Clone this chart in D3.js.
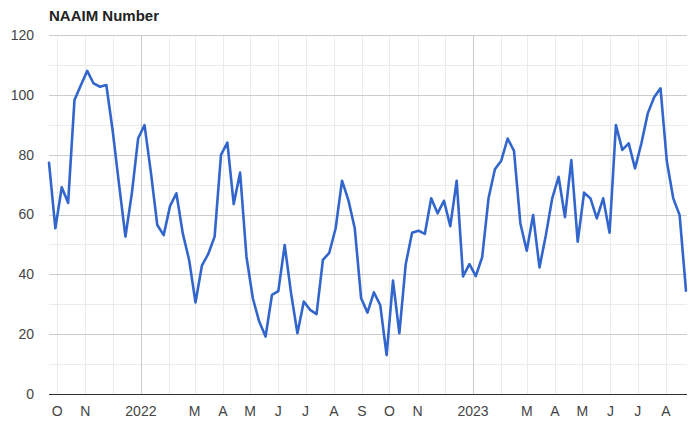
<!DOCTYPE html>
<html>
<head>
<meta charset="utf-8">
<script src="https://cdn.jsdelivr.net/npm/d3@7"></script>
<style>
  html, body { margin: 0; padding: 0; background: #fff; }
  svg { display: block; font-family: "Liberation Sans", Arial, sans-serif; }
</style>
</head>
<body>
<svg id="chart" width="698" height="427"></svg>
<script>
// ---- data ----
const title = "NAAIM Number";
const startDate = [2021, 8, 22]; // first weekly reading (Sep 22, 2021)
const naaimValues = [
  77.3, 55.4, 69.1, 63.9, 98.3, 103.2, 108.0, 103.8, 102.7, 103.3,
  88.0, 70.0, 52.6, 67.0, 85.5, 89.9, 74.0, 56.5, 53.1, 62.8,
  67.1, 53.7, 44.8, 30.6, 42.9, 46.8, 52.6, 79.9, 84.0, 63.5,
  74.0, 45.9, 32.0, 24.2, 19.2, 33.1, 34.4, 49.8, 33.7, 20.3,
  30.9, 28.1, 26.7, 44.8, 47.2, 55.4, 71.3, 64.8, 55.4, 32.0,
  27.2, 34.0, 29.7, 13.0, 37.9, 20.3, 43.4, 53.9, 54.6, 53.5,
  65.4, 60.4, 64.6, 56.1, 71.3, 39.3, 43.4, 39.4, 45.7, 65.4,
  75.1, 78.0, 85.4, 81.3, 57.0, 47.9, 59.8, 42.3, 53.1, 65.4,
  72.6, 59.1, 78.2, 50.9, 67.3, 65.4, 58.7, 65.4, 53.9, 89.9,
  81.6, 83.8, 75.4, 83.8, 93.8, 99.2, 102.2, 77.6, 65.4, 59.8,
  34.5
];
const yTicks = [0, 20, 40, 60, 80, 100, 120];
const yMinorTicks = [10, 30, 50, 70, 90, 110];
const monthTickLabels = ["O", "N", "", "2022", "", "M", "A", "M", "J", "J", "A", "S",
                         "O", "N", "", "2023", "", "M", "A", "M", "J", "J", "A"];

// ---- layout ----
const svg = d3.select("#chart");
const plotLeft = 49, plotRight = 686, plotTop = 35, plotBottom = 394;

const dates = naaimValues.map((v, i) => new Date(startDate[0], startDate[1], startDate[2] + 7 * i));
const points = naaimValues.map((v, i) => ({ date: dates[i], value: v }));

const x = d3.scaleTime()
  .domain(d3.extent(dates))
  .range([plotLeft, plotRight]);
const y = d3.scaleLinear()
  .domain([0, 120])
  .range([plotBottom, plotTop]);

const monthTicks = d3.timeMonth.range(new Date(2021, 9, 1), new Date(2023, 8, 1));

// minor horizontal gridlines
svg.append("g").selectAll("line").data(yMinorTicks).join("line")
  .attr("x1", plotLeft).attr("x2", plotRight + 1)
  .attr("y1", d => Math.round(y(d)) + 0.5).attr("y2", d => Math.round(y(d)) + 0.5)
  .attr("stroke", "#ebebeb").attr("stroke-width", 1);

// vertical month gridlines
svg.append("g").selectAll("line").data(monthTicks).join("line")
  .attr("x1", d => Math.round(x(d)) + 0.5).attr("x2", d => Math.round(x(d)) + 0.5)
  .attr("y1", plotTop).attr("y2", plotBottom)
  .attr("stroke", d => d.getMonth() === 0 ? "#cccccc" : "#ebebeb")
  .attr("stroke-width", 1);

// major horizontal gridlines
svg.append("g").selectAll("line").data(yTicks.filter(d => d !== 0)).join("line")
  .attr("x1", plotLeft).attr("x2", plotRight + 1)
  .attr("y1", d => Math.round(y(d)) + 0.5).attr("y2", d => Math.round(y(d)) + 0.5)
  .attr("stroke", "#cccccc").attr("stroke-width", 1);

// y labels
svg.append("g").selectAll("text").data(yTicks).join("text")
  .attr("x", 34).attr("y", d => y(d))
  .attr("dy", "0.35em")
  .attr("text-anchor", "end")
  .attr("font-size", 14)
  .attr("fill", "#444")
  .text(d => d);

// x labels
svg.append("g").selectAll("text").data(monthTicks).join("text")
  .attr("x", d => x(d)).attr("y", 416)
  .attr("text-anchor", "middle")
  .attr("font-size", 14)
  .attr("fill", "#444")
  .text((d, i) => monthTickLabels[i]);

// baseline
svg.append("line")
  .attr("x1", plotLeft).attr("x2", plotRight + 1)
  .attr("y1", y(0) + 0.5).attr("y2", y(0) + 0.5)
  .attr("stroke", "#333").attr("stroke-width", 1.2);

// the line
const line = d3.line().x(d => x(d.date)).y(d => y(d.value));
svg.append("path")
  .datum(points)
  .attr("d", line)
  .attr("fill", "none")
  .attr("stroke", "#3366cc")
  .attr("stroke-width", 2.6)
  .attr("stroke-linejoin", "round")
  .attr("stroke-linecap", "round");

// title
svg.append("text")
  .attr("x", plotLeft).attr("y", 21)
  .attr("font-size", 15)
  .attr("font-weight", "bold")
  .attr("fill", "#222")
  .text(title);
</script>
</body>
</html>
